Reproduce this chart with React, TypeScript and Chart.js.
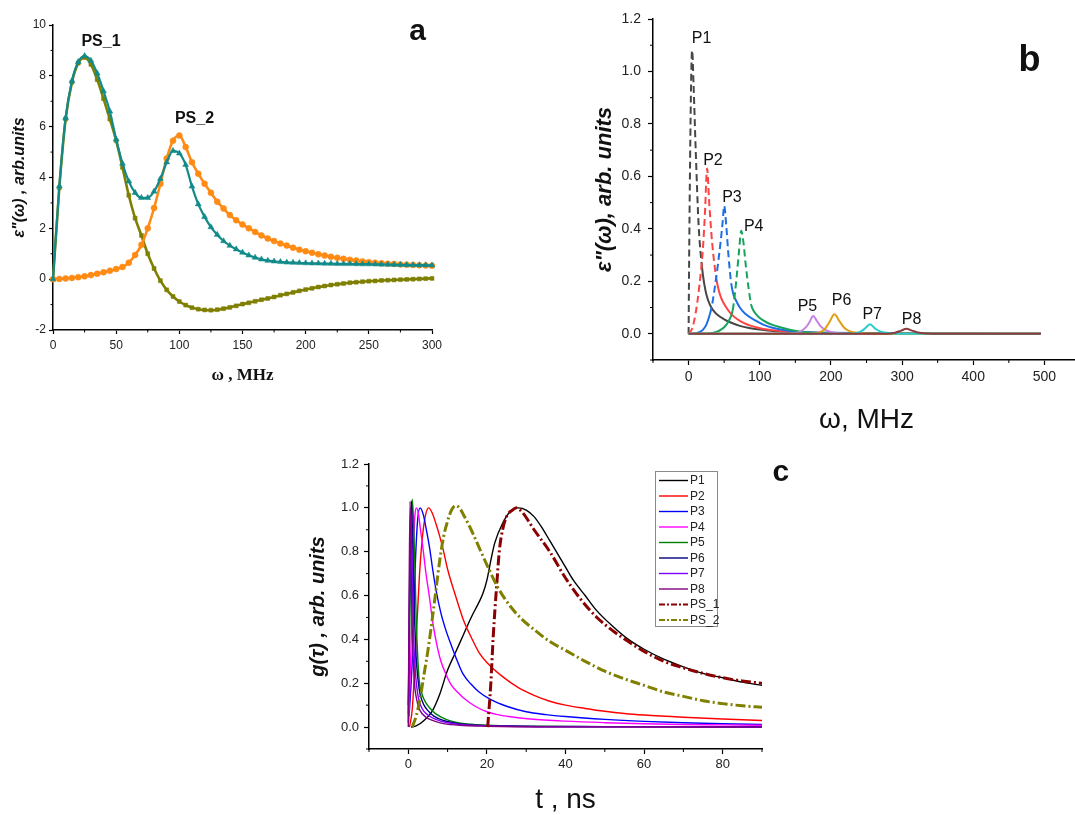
import React, { useEffect, useRef } from 'react';
import { Chart, registerables } from 'chart.js';

Chart.register(...registerables);

const SANS = '"Liberation Sans", Arial, sans-serif';
const SERIF = '"Liberation Serif", "Times New Roman", serif';

type Pt = [number, number];

// ---------------- Panel a ----------------
const aOmega = [0, 5, 10, 15, 20, 25, 30, 35, 40, 45, 50, 55, 60, 65, 70, 75, 80, 85, 90, 95, 100, 105, 110, 115, 120, 125, 130, 135, 140, 145, 150, 155, 160, 165, 170, 175, 180, 185, 190, 195, 200, 205, 210, 215, 220, 225, 230, 235, 240, 245, 250, 255, 260, 265, 270, 275, 280, 285, 290, 295, 300];
const aTotal = [0, 3.65, 6.35, 7.8, 8.55, 8.78, 8.6, 8.1, 7.4, 6.6, 5.5, 4.55, 3.85, 3.4, 3.2, 3.2, 3.45, 3.95, 4.6, 5.05, 4.95, 4.5, 3.65, 2.95, 2.45, 2.05, 1.75, 1.5, 1.32, 1.18, 1.05, 0.94, 0.85, 0.78, 0.73, 0.7, 0.68, 0.66, 0.65, 0.64, 0.63, 0.625, 0.62, 0.615, 0.61, 0.605, 0.6, 0.6, 0.595, 0.59, 0.59, 0.585, 0.58, 0.575, 0.57, 0.565, 0.56, 0.555, 0.55, 0.55, 0.545];
const aPS1 = [0, 3.6, 6.3, 7.75, 8.5, 8.72, 8.45, 7.85, 7.1, 6.3, 5.45, 4.4, 3.3, 2.4, 1.72, 1.0, 0.42, -0.06, -0.42, -0.68, -0.88, -1.02, -1.12, -1.18, -1.21, -1.22, -1.2, -1.16, -1.11, -1.05, -0.98, -0.93, -0.87, -0.81, -0.76, -0.7, -0.63, -0.58, -0.52, -0.46, -0.41, -0.36, -0.31, -0.27, -0.23, -0.2, -0.17, -0.14, -0.12, -0.1, -0.08, -0.07, -0.05, -0.04, -0.03, -0.02, -0.01, 0, 0.01, 0.02, 0.03];
const aPS2 = [0, 0.01, 0.03, 0.05, 0.08, 0.11, 0.16, 0.21, 0.27, 0.33, 0.4, 0.48, 0.65, 0.95, 1.35, 2.0, 2.8, 3.75, 4.75, 5.45, 5.65, 5.2, 4.6, 4.15, 3.75, 3.4, 3.05, 2.78, 2.52, 2.32, 2.15, 2.0, 1.86, 1.72, 1.6, 1.5, 1.4, 1.32, 1.24, 1.16, 1.1, 1.04, 0.98, 0.93, 0.88, 0.84, 0.8, 0.76, 0.73, 0.7, 0.67, 0.65, 0.63, 0.61, 0.6, 0.58, 0.57, 0.56, 0.55, 0.54, 0.53];
const aXTicks = [0, 50, 100, 150, 200, 250, 300];
const aYTicks = [-2, 0, 2, 4, 6, 8, 10];
const aXMinor = [25, 75, 125, 175, 225, 275];
const aYMinor = [-1, 1, 3, 5, 7, 9];

// ---------------- Panel b ----------------
const bP1: Pt[] = [[0, 0], [1, 0.35], [2.5, 0.75], [4, 1.02], [5, 1.08], [7, 0.95], [10, 0.7], [14, 0.42], [19, 0.25], [22, 0.19], [25, 0.15], [30, 0.11], [35, 0.088], [40, 0.073], [50, 0.055], [60, 0.042], [72, 0.03], [85, 0.022], [100, 0.016], [120, 0.01], [150, 0.006], [200, 0.003], [300, 0.001], [495, 0]];
const bP2: Pt[] = [[0, 0], [5, 0.02], [10, 0.08], [15, 0.18], [20, 0.32], [23, 0.46], [26, 0.63], [29, 0.5], [33, 0.35], [39, 0.21], [42, 0.17], [46, 0.135], [53, 0.1], [60, 0.075], [72, 0.049], [85, 0.033], [95, 0.025], [110, 0.016], [130, 0.01], [160, 0.005], [200, 0.003], [300, 0.001], [495, 0]];
const bP3: Pt[] = [[0, 0], [10, 0.002], [15, 0.006], [20, 0.015], [25, 0.035], [30, 0.075], [33, 0.11], [37, 0.18], [41, 0.26], [45, 0.35], [48, 0.43], [50, 0.488], [53, 0.41], [56, 0.3], [60, 0.19], [63, 0.15], [67, 0.125], [72, 0.1], [80, 0.075], [95, 0.049], [105, 0.035], [118, 0.023], [142, 0.011], [170, 0.006], [200, 0.004], [300, 0.001], [495, 0]];
const bP4: Pt[] = [[0, 0], [30, 0.002], [40, 0.008], [45, 0.015], [50, 0.025], [55, 0.042], [60, 0.07], [62, 0.09], [65, 0.15], [68, 0.23], [71, 0.32], [74, 0.393], [77, 0.35], [80, 0.27], [84, 0.18], [88, 0.11], [92, 0.085], [95, 0.074], [100, 0.06], [110, 0.043], [119, 0.033], [130, 0.024], [142, 0.015], [155, 0.009], [165, 0.006], [180, 0.003], [200, 0.002], [300, 0.001], [495, 0]];
const bP5: Pt[] = [[0, 0], [140, 0], [150, 0.003], [158, 0.01], [165, 0.025], [170, 0.045], [175, 0.068], [180, 0.05], [185, 0.03], [192, 0.015], [200, 0.007], [215, 0.002], [240, 0], [495, 0]];
const bP6: Pt[] = [[0, 0], [175, 0], [185, 0.006], [192, 0.02], [198, 0.045], [205, 0.074], [212, 0.048], [218, 0.025], [226, 0.01], [240, 0.003], [260, 0], [495, 0]];
const bP7: Pt[] = [[0, 0], [230, 0], [240, 0.006], [247, 0.018], [255, 0.036], [262, 0.02], [270, 0.008], [285, 0.002], [300, 0], [495, 0]];
const bP8: Pt[] = [[0, 0], [280, 0], [290, 0.004], [298, 0.011], [306, 0.019], [314, 0.012], [322, 0.005], [335, 0.001], [350, 0], [495, 0]];
const bLabels = ['P1', 'P2', 'P3', 'P4', 'P5', 'P6', 'P7', 'P8'];
const bXTicks = [0, 100, 200, 300, 400, 500];
const bYTicks = [0, 0.2, 0.4, 0.6, 0.8, 1.0, 1.2];
const bXMinor = [-50, 50, 150, 250, 350, 450, 550];
const bYMinor = [-0.1, 0.1, 0.3, 0.5, 0.7, 0.9, 1.1];

// ---------------- Panel c ----------------
const cP1: Pt[] = [[0.7, 0], [2, 0.005], [4, 0.03], [6, 0.07], [8, 0.15], [10, 0.26], [12, 0.34], [14, 0.42], [16, 0.5], [18, 0.57], [19, 0.61], [20, 0.67], [21, 0.76], [22, 0.84], [24, 0.93], [26, 0.985], [28, 1.0], [30, 0.99], [32, 0.96], [34, 0.91], [36, 0.85], [38, 0.79], [40, 0.73], [42, 0.67], [45, 0.6], [48, 0.53], [52, 0.46], [56, 0.4], [60, 0.355], [65, 0.31], [70, 0.275], [75, 0.245], [80, 0.225], [85, 0.205], [90, 0.19]];
const cP2: Pt[] = [[0.3, 0], [1, 0.08], [2, 0.4], [2.8, 0.68], [3.5, 0.85], [4.3, 0.96], [5.2, 1.0], [6, 0.98], [7, 0.93], [8, 0.87], [9, 0.8], [10, 0.72], [12, 0.6], [14, 0.49], [16, 0.41], [18, 0.34], [20, 0.295], [24, 0.23], [28, 0.18], [32, 0.145], [36, 0.118], [40, 0.1], [45, 0.085], [50, 0.072], [55, 0.062], [60, 0.055], [70, 0.045], [80, 0.037], [90, 0.03]];
const cP3: Pt[] = [[0.2, 0.05], [1, 0.3], [1.8, 0.75], [2.4, 0.95], [3.0, 1.0], [3.8, 0.97], [4.6, 0.9], [5.4, 0.82], [6.2, 0.72], [7.1, 0.62], [8.3, 0.52], [9.6, 0.44], [11, 0.37], [12.5, 0.3], [14, 0.24], [16, 0.195], [18, 0.16], [21, 0.125], [25, 0.095], [30, 0.07], [35, 0.057], [40, 0.048], [50, 0.035], [60, 0.026], [70, 0.02], [80, 0.015], [90, 0.012]];
const cP4: Pt[] = [[0.1, 0.02], [0.6, 0.3], [1.2, 0.75], [1.7, 0.97], [2.1, 1.0], [2.6, 0.97], [3.1, 0.9], [3.7, 0.82], [4.5, 0.7], [5.4, 0.59], [6.2, 0.48], [7.1, 0.39], [8.3, 0.3], [9.6, 0.24], [11, 0.19], [12.5, 0.16], [14, 0.134], [17, 0.095], [20, 0.07], [22.4, 0.058], [26, 0.047], [31, 0.037], [40, 0.027], [50, 0.02], [60, 0.015], [70, 0.012], [80, 0.01], [90, 0.008]];
const cP5: Pt[] = [[0, 0.06], [0.4, 0.5], [0.8, 0.95], [1.0, 1.04], [1.3, 0.95], [1.6, 0.78], [2.0, 0.5], [2.4, 0.32], [2.8, 0.21], [3.5, 0.15], [4.5, 0.11], [5.4, 0.088], [7, 0.06], [9.6, 0.035], [12, 0.022], [15, 0.014], [20, 0.008], [30, 0.004], [50, 0.002], [90, 0.001]];
const cP6: Pt[] = [[0, 0.1], [0.4, 0.7], [0.8, 1.03], [1.1, 0.85], [1.5, 0.55], [2, 0.32], [2.5, 0.21], [3, 0.15], [4, 0.1], [5, 0.075], [6.5, 0.05], [9, 0.03], [12, 0.018], [16, 0.01], [25, 0.005], [50, 0.002], [90, 0.001]];
const cP7: Pt[] = [[0, 0.02], [0.3, 0.6], [0.6, 1.0], [0.9, 0.8], [1.3, 0.45], [1.8, 0.25], [2.5, 0.14], [3.5, 0.085], [5, 0.055], [7, 0.035], [10, 0.02], [15, 0.01], [25, 0.004], [50, 0.001], [90, 0]];
const cP8: Pt[] = [[0, 0], [0.2, 0.6], [0.45, 1.03], [0.7, 0.75], [1.0, 0.45], [1.5, 0.22], [2.2, 0.12], [3, 0.075], [4.5, 0.045], [6.5, 0.028], [9, 0.016], [13, 0.008], [20, 0.004], [40, 0.001], [90, 0]];
const cPS1: Pt[] = [[20.2, 0], [21, 0.2], [21.6, 0.41], [22.5, 0.65], [23.2, 0.81], [24, 0.9], [25, 0.96], [26.5, 0.99], [27.5, 1.0], [29, 0.98], [32, 0.9], [36, 0.8], [40, 0.68], [44, 0.58], [48, 0.5], [52, 0.44], [56, 0.39], [60, 0.345], [65, 0.3], [70, 0.27], [75, 0.245], [80, 0.225], [85, 0.21], [90, 0.2]];
const cPS2: Pt[] = [[1, 0], [2, 0.05], [3, 0.13], [4, 0.24], [5, 0.35], [6, 0.48], [7, 0.62], [8, 0.76], [9, 0.87], [10, 0.94], [11, 0.99], [12, 1.01], [13, 1.0], [14, 0.97], [16, 0.9], [18, 0.82], [20, 0.74], [23, 0.63], [26, 0.55], [29, 0.49], [32, 0.445], [36, 0.39], [40, 0.35], [45, 0.3], [50, 0.255], [55, 0.22], [60, 0.19], [65, 0.16], [70, 0.14], [75, 0.12], [80, 0.107], [85, 0.097], [90, 0.09]];
const cLabels = ['P1', 'P2', 'P3', 'P4', 'P5', 'P6', 'P7', 'P8', 'PS_1', 'PS_2'];
const cXTicks = [0, 20, 40, 60, 80];
const cYTicks = [0, 0.2, 0.4, 0.6, 0.8, 1.0, 1.2];
const cXMinor = [-10, 10, 30, 50, 70, 90];
const cYMinor = [-0.1, 0.1, 0.3, 0.5, 0.7, 0.9, 1.1];

// ---------------- helpers ----------------
const toXY = (pts: Pt[]) => pts.map(([x, y]) => ({ x, y }));

function makeMinorTicks(xMinor: number[], yMinor: number[], len: number, width: number) {
  return {
    id: 'minorTicks',
    afterDraw(chart: any) {
      const { ctx, chartArea, scales } = chart;
      ctx.save();
      ctx.strokeStyle = '#000';
      ctx.lineWidth = width;
      ctx.beginPath();
      xMinor.forEach((v) => {
        const p = scales.x.getPixelForValue(v);
        ctx.moveTo(p, chartArea.bottom);
        ctx.lineTo(p, chartArea.bottom + len);
      });
      yMinor.forEach((v) => {
        const p = scales.y.getPixelForValue(v);
        ctx.moveTo(chartArea.left, p);
        ctx.lineTo(chartArea.left - len, p);
      });
      ctx.stroke();
      ctx.restore();
    },
  };
}

type TextItem = { text: string; x: number; y: number; font: string; color?: string };
function makeTexts(items: TextItem[]) {
  return {
    id: 'panelTexts',
    afterDraw(chart: any) {
      const { ctx, scales } = chart;
      ctx.save();
      ctx.textAlign = 'center';
      ctx.textBaseline = 'middle';
      items.forEach((it) => {
        ctx.font = it.font;
        ctx.fillStyle = it.color || '#111';
        ctx.fillText(it.text, scales.x.getPixelForValue(it.x), scales.y.getPixelForValue(it.y));
      });
      ctx.restore();
    },
  };
}

function makeBoxLegend(left: number, top: number, width: number, height: number, first: number, step: number) {
  return {
    id: 'boxLegend',
    afterDraw(chart: any) {
      const ctx = chart.ctx;
      ctx.save();
      ctx.fillStyle = '#fff';
      ctx.fillRect(left, top, width, height);
      ctx.strokeStyle = '#8a8a8a';
      ctx.lineWidth = 1;
      ctx.strokeRect(left + 0.5, top + 0.5, width, height);
      ctx.font = `12px ${SANS}`;
      ctx.textBaseline = 'middle';
      ctx.textAlign = 'left';
      chart.data.datasets.forEach((ds: any, i: number) => {
        const y = top + first + i * step;
        ctx.strokeStyle = ds.borderColor;
        ctx.lineWidth = Math.min(ds.borderWidth, 2.2);
        ctx.setLineDash(ds.borderDash && ds.borderDash.length ? [6, 2, 2, 2] : []);
        ctx.beginPath();
        ctx.moveTo(left + 4, y);
        ctx.lineTo(left + 33, y);
        ctx.stroke();
        ctx.setLineDash([]);
        ctx.fillStyle = '#222';
        ctx.fillText(ds.label, left + 35, y + 0.5);
      });
      ctx.restore();
    },
  };
}

function linAxis(o: {
  min: number; max: number; ticks: number[]; size: number; horizontal: boolean;
  fontSize: number; pad: number; tickLen: number; fmt?: (v: number) => string; title: any; borderWidth: number;
}) {
  return {
    type: 'linear',
    min: o.min,
    max: o.max,
    afterBuildTicks: (s: any) => { s.ticks = o.ticks.map((v) => ({ value: v })); },
    afterFit: (s: any) => { if (o.horizontal) s.height = o.size; else s.width = o.size; },
    ticks: {
      autoSkip: false,
      maxRotation: 0,
      padding: o.pad,
      color: '#222',
      font: { family: SANS, size: o.fontSize },
      callback: (v: any) => (o.fmt ? o.fmt(Number(v)) : String(v)),
    },
    grid: { drawOnChartArea: false, drawTicks: true, tickLength: o.tickLen, tickColor: '#000', tickWidth: 1.2 },
    border: { display: true, color: '#000', width: o.borderWidth },
    title: o.title,
  };
}

const baseOptions = (padding: any) => ({
  responsive: false,
  animation: false,
  events: [],
  layout: { padding },
  plugins: { legend: { display: false }, tooltip: { enabled: false } },
});

// ---------------- configs ----------------
function configA(): any {
  const TEAL = '#138a8a';
  const OLIVE = '#7f7f00';
  const ORANGE = '#ff8a14';
  return {
    type: 'line',
    data: {
      datasets: [
        {
          label: 'total', data: aOmega.map((x, i) => ({ x, y: aTotal[i] })),
          borderColor: TEAL, backgroundColor: TEAL, borderWidth: 2.2,
          pointStyle: 'triangle', pointRadius: 3.4, pointBorderWidth: 0.5, pointBorderColor: TEAL, pointBackgroundColor: TEAL,
          cubicInterpolationMode: 'monotone', clip: 6,
        },
        {
          label: 'PS_2', data: aOmega.map((x, i) => ({ x, y: aPS2[i] })),
          borderColor: ORANGE, backgroundColor: ORANGE, borderWidth: 2.6,
          pointStyle: 'circle', pointRadius: 3, pointBorderWidth: 0.5, pointBorderColor: ORANGE, pointBackgroundColor: ORANGE,
          cubicInterpolationMode: 'monotone', clip: 6,
        },
        {
          label: 'PS_1', data: aOmega.map((x, i) => ({ x, y: aPS1[i] })),
          borderColor: OLIVE, backgroundColor: OLIVE, borderWidth: 2.6,
          pointStyle: 'rect', pointRadius: 2.8, pointBorderWidth: 0.5, pointBorderColor: OLIVE, pointBackgroundColor: OLIVE,
          cubicInterpolationMode: 'monotone', clip: 6,
        },
      ],
    },
    options: {
      ...baseOptions({ left: 0, top: 25, right: 18, bottom: 0 }),
      scales: {
        x: linAxis({
          min: 0, max: 300, ticks: aXTicks, size: 70, horizontal: true, fontSize: 12, pad: 4, tickLen: 4, borderWidth: 1.5,
          title: { display: true, text: 'ω , MHz', color: '#111', font: { family: SERIF, size: 17, weight: 'bold' }, padding: { top: 0, bottom: 14 } },
        }),
        y: linAxis({
          min: -2, max: 10, ticks: aYTicks, size: 53, horizontal: false, fontSize: 12, pad: 3, tickLen: 4, borderWidth: 1.5,
          title: { display: true, text: 'ε"(ω) , arb.units', color: '#111', font: { family: SANS, size: 16, weight: 'bold', style: 'italic' }, padding: { top: 10, bottom: 0 } },
        }),
      },
    },
    plugins: [
      makeMinorTicks(aXMinor, aYMinor, 2.5, 1),
      makeTexts([
        { text: 'PS_1', x: 38, y: 9.33, font: `bold 16px ${SANS}` },
        { text: 'PS_2', x: 112, y: 6.3, font: `bold 16px ${SANS}` },
        { text: 'a', x: 288.5, y: 9.72, font: `bold 30px ${SANS}` },
      ]),
    ],
  };
}

function configB(): any {
  const series: Pt[][] = [bP1, bP2, bP3, bP4, bP5, bP6, bP7, bP8];
  const colors = ['#474747', '#ff4343', '#1e6fe6', '#16a35c', '#c482e2', '#e0a012', '#27cbcb', '#8c3c3c'];
  const dashRange: [number, number][] = [[0, 19], [0, 39], [30, 60], [62, 88], [-1, -1], [-1, -1], [-1, -1], [-1, -1]];
  return {
    type: 'line',
    data: {
      datasets: series.map((pts, i) => ({
        label: bLabels[i],
        data: toXY(pts),
        borderColor: colors[i],
        borderWidth: 2,
        pointRadius: 0,
        cubicInterpolationMode: 'monotone',
        order: -i,
        segment: {
          borderDash: (ctx: any) => {
            const x0 = pts[ctx.p0DataIndex][0];
            const x1 = pts[ctx.p1DataIndex][0];
            const [from, to] = dashRange[i];
            return x0 >= from && x1 <= to ? [7, 4] : undefined;
          },
        },
      })),
    },
    options: {
      ...baseOptions({ left: 0, top: 19, right: 5, bottom: 0 }),
      scales: {
        x: linAxis({
          min: -50, max: 550, ticks: bXTicks, size: 90, horizontal: true, fontSize: 14, pad: 4, tickLen: 5, borderWidth: 1.5,
          title: { display: true, text: 'ω, MHz', color: '#111', font: { family: SANS, size: 28 }, padding: { top: 0, bottom: 13 } },
        }),
        y: linAxis({
          min: -0.1, max: 1.2, ticks: bYTicks, size: 113, horizontal: false, fontSize: 14, pad: 7, tickLen: 5, borderWidth: 1.5,
          fmt: (v) => v.toFixed(1),
          title: { display: true, text: 'ε"(ω), arb. units', color: '#111', font: { family: SANS, size: 22, weight: 'bold', style: 'italic' }, padding: { top: 52, bottom: 0 } },
        }),
      },
    },
    plugins: [
      makeMinorTicks(bXMinor, bYMinor, 3, 1),
      makeTexts([
        { text: 'P1', x: 18.3, y: 1.127, font: `16px ${SANS}` },
        { text: 'P2', x: 34.2, y: 0.66, font: `16px ${SANS}` },
        { text: 'P3', x: 60.9, y: 0.518, font: `16px ${SANS}` },
        { text: 'P4', x: 91.5, y: 0.408, font: `16px ${SANS}` },
        { text: 'P5', x: 167, y: 0.102, font: `16px ${SANS}` },
        { text: 'P6', x: 214.9, y: 0.125, font: `16px ${SANS}` },
        { text: 'P7', x: 258, y: 0.074, font: `16px ${SANS}` },
        { text: 'P8', x: 313.4, y: 0.055, font: `16px ${SANS}` },
        { text: 'b', x: 479, y: 1.039, font: `bold 36px ${SANS}` },
      ]),
    ],
  };
}

function configC(): any {
  const series: Pt[][] = [cP1, cP2, cP3, cP4, cP5, cP6, cP7, cP8, cPS1, cPS2];
  const colors = ['#000000', '#ff0000', '#0000ff', '#ff00ff', '#008000', '#000080', '#8000ff', '#800080', '#8b0000', '#808000'];
  return {
    type: 'line',
    data: {
      datasets: series.map((pts, i) => {
        const ps = i >= 8;
        return {
          label: cLabels[i],
          data: toXY(pts),
          borderColor: colors[i],
          borderWidth: ps ? 3 : 1.4,
          borderDash: ps ? [10, 3, 2, 3] : [],
          pointRadius: 0,
          cubicInterpolationMode: 'monotone',
          order: -i,
        };
      }),
    },
    options: {
      ...baseOptions({ left: 0, top: 24, right: 38, bottom: 0 }),
      scales: {
        x: linAxis({
          min: -10, max: 90, ticks: cXTicks, size: 76, horizontal: true, fontSize: 13, pad: 3, tickLen: 5, borderWidth: 1.5,
          title: { display: true, text: 't , ns', color: '#111', font: { family: SANS, size: 28 }, padding: { top: 0, bottom: 8 } },
        }),
        y: linAxis({
          min: -0.1, max: 1.2, ticks: cYTicks, size: 69, horizontal: false, fontSize: 13, pad: 5, tickLen: 5, borderWidth: 1.5,
          fmt: (v) => v.toFixed(1),
          title: { display: true, text: 'g(τ) , arb. units', color: '#111', font: { family: SANS, size: 20, weight: 'bold', style: 'italic' }, padding: { top: 6, bottom: 0 } },
        }),
      },
    },
    plugins: [
      makeMinorTicks(cXMinor, cYMinor, 3, 1),
      makeBoxLegend(355, 31, 62, 155, 9.5, 15.5),
      makeTexts([{ text: 'c', x: 94.8, y: 1.158, font: `bold 30px ${SANS}` }]),
    ],
  };
}

export default function App() {
  const refA = useRef<HTMLCanvasElement>(null);
  const refB = useRef<HTMLCanvasElement>(null);
  const refC = useRef<HTMLCanvasElement>(null);

  useEffect(() => {
    const charts = [
      new Chart(refA.current as HTMLCanvasElement, configA()),
      new Chart(refB.current as HTMLCanvasElement, configB()),
      new Chart(refC.current as HTMLCanvasElement, configC()),
    ];
    return () => charts.forEach((c) => c.destroy());
  }, []);

  const abs = (left: number, top: number, w: number, h: number): React.CSSProperties => ({
    position: 'absolute', left, top, width: w, height: h,
  });

  return (
    <div style={{ position: 'absolute', left: 0, top: 0, width: 1075, height: 815, overflow: 'hidden', background: '#fff' }}>
      <div style={abs(0, 0, 450, 400)}>
        <canvas ref={refA} width={450} height={400} style={{ width: 450, height: 400, display: 'block' }} />
      </div>
      <div style={abs(540, 0, 545, 450)}>
        <canvas ref={refB} width={545} height={450} style={{ width: 545, height: 450, display: 'block' }} />
      </div>
      <div style={abs(300, 440, 500, 385)}>
        <canvas ref={refC} width={500} height={385} style={{ width: 500, height: 385, display: 'block' }} />
      </div>
    </div>
  );
}
